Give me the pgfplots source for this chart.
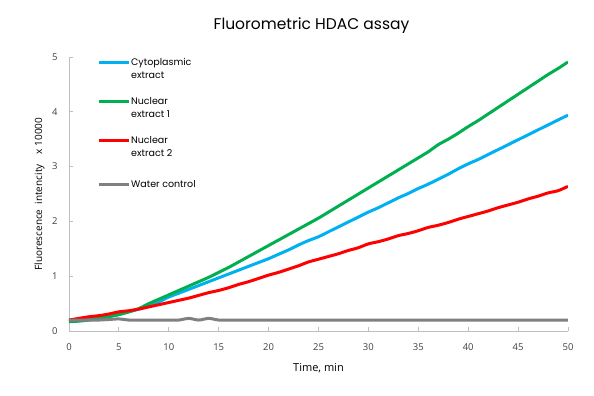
\documentclass[border=0pt]{standalone}
\usepackage{pgfplots}
\pgfplotsset{compat=1.18}
\usepackage{fontspec}
\setmainfont{Open Sans}
\newfontfamily\gothic{Poppins}
\definecolor{cblue}{RGB}{0,176,240}
\definecolor{cgreen}{RGB}{0,176,80}
\definecolor{cred}{RGB}{255,0,0}
\definecolor{cgray}{RGB}{128,128,128}
\definecolor{axgray}{RGB}{190,190,190}
\definecolor{txt}{RGB}{64,64,64}
\pgfplotsset{
  twoline/.style={legend image code/.code={\path (0pt,-8pt); \draw[##1, line width=3pt] (0pt,6.5pt) -- (30pt,6.5pt);}},
  oneline/.style={legend image code/.code={\path (0pt,-8.5pt) (0pt,8.5pt); \draw[##1, line width=3pt] (0pt,0pt) -- (30pt,0pt);}},
}
\begin{document}
\begin{tikzpicture}
\begin{axis}[
  scale only axis, width=499pt, height=274pt,
  xmin=0, xmax=50, ymin=0, ymax=5,
  xtick={0,5,...,50}, ytick={0,1,...,5},
  axis x line*=bottom, axis y line*=left,
  axis line style={axgray, line width=0.8pt},
  tick style={axgray, line width=0.8pt},
  major tick length=4pt, tick align=inside,
  tick label style={font=\fontsize{9.5}{10}\selectfont, text=txt},
  xticklabel style={yshift=-9pt},
  yticklabel style={xshift=-8pt},
  /pgf/number format/assume math mode=true,
  every axis label/.append style={text=black},
  xlabel={\fontsize{11}{12}\selectfont Time, min},
  ylabel={\fontsize{10}{12}\selectfont Fluorescence\ \ intencity\ \ \ \ x 10000},
  xlabel style={at={(rel axis cs:0.5,0)}, anchor=north, yshift=-29pt},
  ylabel style={at={(rel axis cs:0,0.5)}, anchor=south, yshift=21pt},
  title={\gothic\fontsize{15.5}{18}\selectfont Fluorometric HDAC assay},
  title style={at={(rel axis cs:0.486,1)}, anchor=south, yshift=14pt},
  legend style={at={(rel axis cs:0.05,1.008)}, anchor=north west, draw=none, fill=none,
    font=\gothic\fontsize{9.5}{13}\selectfont, row sep=15.5pt,
    nodes={inner sep=1pt, align=left}},
  legend cell align=left,
  every axis plot/.append style={line width=3pt, smooth, line join=round},
]
\addplot[cblue, twoline] coordinates {
(0,0.18)(1,0.19)(2,0.21)(3,0.24)(4,0.27)(5,0.30)(6,0.35)(7,0.40)(8,0.46)(9,0.53)
(10,0.62)(11,0.69)(12,0.76)(13,0.83)(14,0.90)(15,0.97)(16,1.04)(17,1.11)(18,1.18)(19,1.25)
(20,1.32)(21,1.40)(22,1.48)(23,1.57)(24,1.65)(25,1.72)(26,1.81)(27,1.90)(28,1.99)(29,2.08)
(30,2.17)(31,2.25)(32,2.34)(33,2.43)(34,2.51)(35,2.60)(36,2.68)(37,2.77)(38,2.86)(39,2.96)
(40,3.05)(41,3.13)(42,3.22)(43,3.31)(44,3.40)(45,3.49)(46,3.58)(47,3.67)(48,3.76)(49,3.85)(50,3.94)};
\addlegendentry{Cytoplasmic\\extract}
\addplot[cgreen, twoline] coordinates {
(0,0.17)(1,0.18)(2,0.20)(3,0.23)(4,0.26)(5,0.30)(6,0.35)(7,0.41)(8,0.50)(9,0.58)
(10,0.66)(11,0.74)(12,0.82)(13,0.90)(14,0.98)(15,1.07)(16,1.16)(17,1.26)(18,1.36)(19,1.46)
(20,1.56)(21,1.66)(22,1.76)(23,1.86)(24,1.96)(25,2.06)(26,2.17)(27,2.28)(28,2.39)(29,2.50)
(30,2.61)(31,2.72)(32,2.83)(33,2.94)(34,3.05)(35,3.16)(36,3.27)(37,3.40)(38,3.50)(39,3.61)
(40,3.73)(41,3.84)(42,3.96)(43,4.08)(44,4.20)(45,4.32)(46,4.44)(47,4.56)(48,4.68)(49,4.79)(50,4.91)};
\addlegendentry{Nuclear\\extract 1}
\addplot[cred, twoline] coordinates {
(0,0.20)(1,0.23)(2,0.26)(3,0.28)(4,0.31)(5,0.35)(6,0.37)(7,0.40)(8,0.44)(9,0.48)
(10,0.52)(11,0.56)(12,0.60)(13,0.65)(14,0.70)(15,0.74)(16,0.79)(17,0.85)(18,0.90)(19,0.96)
(20,1.02)(21,1.07)(22,1.13)(23,1.19)(24,1.26)(25,1.31)(26,1.36)(27,1.41)(28,1.47)(29,1.52)
(30,1.59)(31,1.63)(32,1.68)(33,1.74)(34,1.78)(35,1.83)(36,1.89)(37,1.93)(38,1.98)(39,2.04)
(40,2.09)(41,2.14)(42,2.19)(43,2.25)(44,2.30)(45,2.35)(46,2.41)(47,2.46)(48,2.52)(49,2.56)(50,2.64)};
\addlegendentry{Nuclear\\extract 2}
\addplot[cgray, oneline] coordinates {
(0,0.20)(1,0.20)(2,0.20)(3,0.20)(4,0.21)(5,0.22)(6,0.20)(7,0.20)(8,0.20)(9,0.20)
(10,0.20)(11,0.20)(12,0.23)(13,0.20)(14,0.23)(15,0.20)(16,0.20)(17,0.20)(18,0.20)(19,0.20)
(20,0.20)(25,0.20)(30,0.20)(35,0.20)(40,0.20)(45,0.20)(50,0.20)};
\addlegendentry{Water control}
\end{axis}
\useasboundingbox (-69pt,-65pt) rectangle (525pt,331pt);
\end{tikzpicture}
\end{document}
